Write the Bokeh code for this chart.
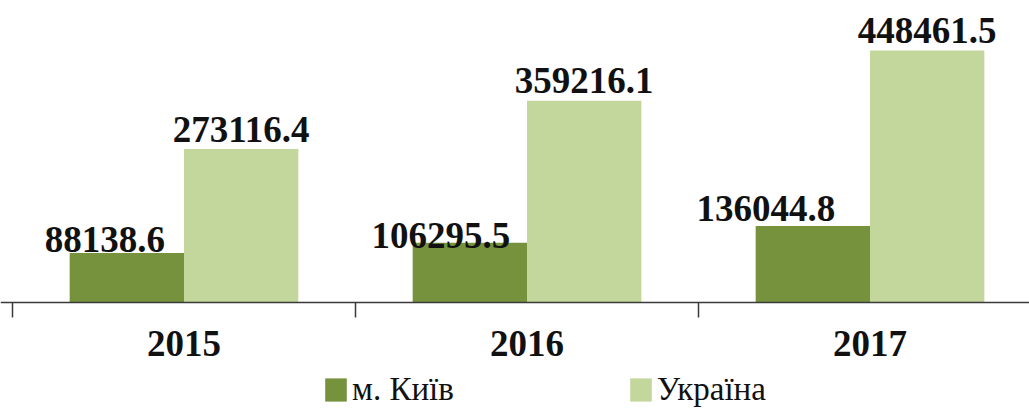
from bokeh.plotting import figure
from bokeh.models import (Range1d, LinearAxis, FixedTicker, Legend, LegendItem,
                          ColumnDataSource)
from bokeh.transform import dodge
from bokeh.core.properties import value
from bokeh.embed import file_html
from bokeh.resources import INLINE

# ---- data ----
years = ["2015", "2016", "2017"]
series = ["м. Київ", "Україна"]
kyiv = [88138.6, 106295.5, 136044.8]
ukraine = [273116.4, 359216.1, 448461.5]

# ---- style ----
colors = ["#76923C", "#C3D69B"]
kyiv_label_dx = [-22, -29, -47]
kyiv_label_dy = [-13, -7, -18]
ukr_label_dy = [-20, -20, -20]
FONT_NAME = "Liberation Serif"
FONT = value(FONT_NAME)
BAR_W = 1 / 3

idx = list(range(len(years)))
bounds = [i - 0.5 for i in idx] + [len(idx) - 0.5]
src = ColumnDataSource(dict(
    x=idx, kyiv=kyiv, ukraine=ukraine,
    kyiv_txt=[f"{v:.1f}" for v in kyiv],
    ukr_txt=[f"{v:.1f}" for v in ukraine],
    kdx=kyiv_label_dx, kdy=kyiv_label_dy, udy=ukr_label_dy,
))

p = figure(width=1029, height=408,
           x_range=Range1d(-0.535, 2.465), y_range=Range1d(-188639, 537440),
           output_backend="svg", toolbar_location=None,
           x_axis_location=None, y_axis_location=None, min_border=0)
p.outline_line_color = None
p.grid.visible = False

r1 = p.vbar(x=dodge("x", -BAR_W / 2, range=p.x_range), top="kyiv", bottom=0,
            width=BAR_W, source=src, fill_color=colors[0], line_color=None)
r2 = p.vbar(x=dodge("x", BAR_W / 2, range=p.x_range), top="ukraine", bottom=0,
            width=BAR_W, source=src, fill_color=colors[1], line_color=None)

lbl = dict(text_align="center", text_baseline="alphabetic", text_font=FONT,
           text_font_style="bold", text_font_size="37px", text_color="#111111")
p.text(x=dodge("x", -BAR_W / 2, range=p.x_range), y="kyiv", text="kyiv_txt",
       x_offset="kdx", y_offset="kdy", source=src, **lbl)
p.text(x=dodge("x", BAR_W / 2, range=p.x_range), y="ukraine", text="ukr_txt",
       y_offset="udy", source=src, **lbl)

axA = LinearAxis(ticker=FixedTicker(ticks=bounds), fixed_location=0,
                 major_label_overrides={b: "" for b in bounds},
                 axis_line_color="#3a3a3a", axis_line_width=1.5,
                 major_tick_line_color="#3a3a3a", major_tick_line_width=1.5,
                 major_tick_out=15, major_tick_in=0, minor_tick_line_color=None,
                 major_label_standoff=0)
p.add_layout(axA, "below")

axB = LinearAxis(ticker=FixedTicker(ticks=idx), fixed_location=0,
                 major_label_overrides={i: y for i, y in enumerate(years)},
                 axis_line_color=None, major_tick_line_color=None,
                 major_tick_out=0, major_tick_in=0, minor_tick_line_color=None,
                 major_label_text_font=FONT_NAME, major_label_text_font_style="bold",
                 major_label_text_font_size="37px", major_label_text_color="#111111",
                 major_label_standoff=29)
p.add_layout(axB, "below")

legend = Legend(items=[LegendItem(label=series[0], renderers=[r1]),
                       LegendItem(label=series[1], renderers=[r2])],
                orientation="horizontal", location=(322, 0),
                glyph_width=27, glyph_height=29, label_standoff=3, spacing=173,
                padding=0, margin=0, border_line_color=None,
                background_fill_alpha=0, label_text_font=FONT_NAME,
                label_text_font_size="33px", label_text_color="#111111")
p.add_layout(legend, "center")

open("out.html", "w").write(file_html(p, INLINE))
